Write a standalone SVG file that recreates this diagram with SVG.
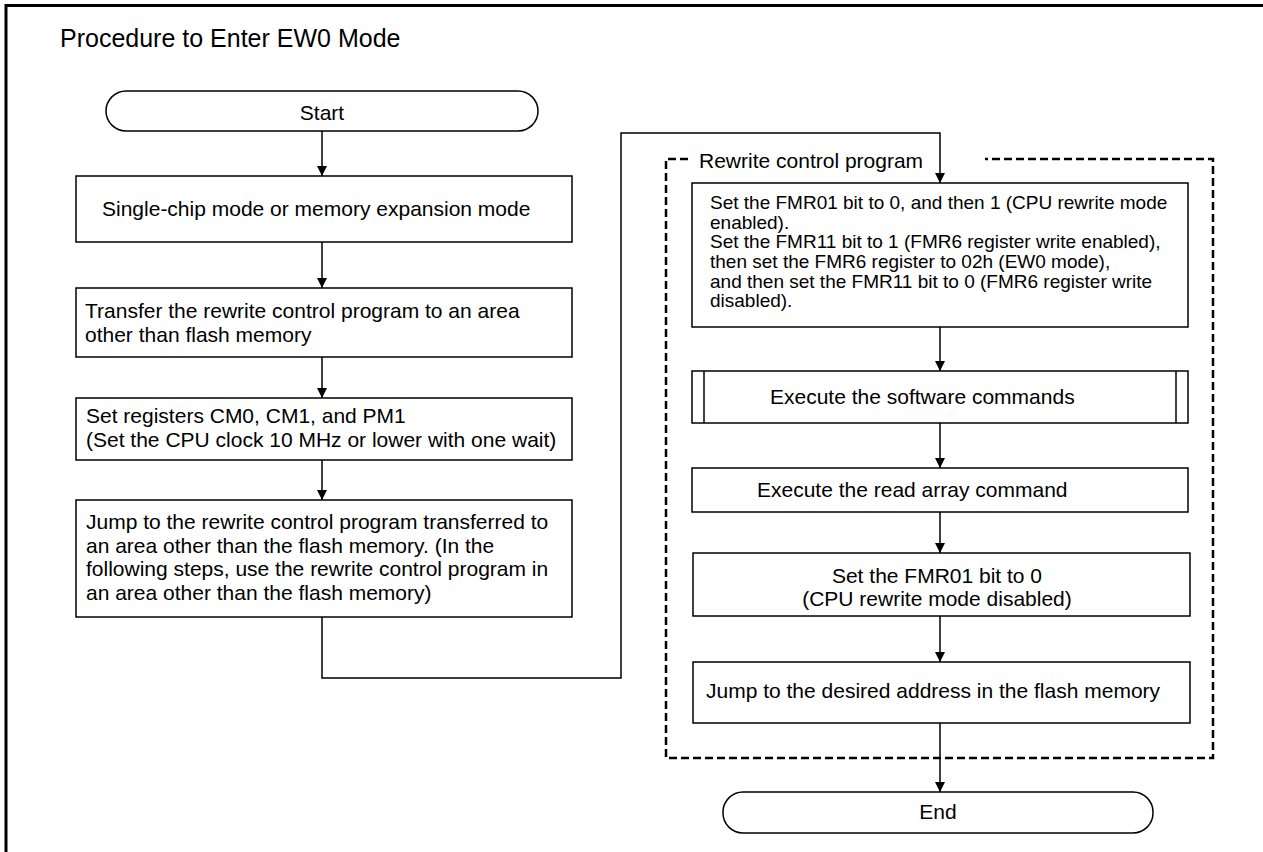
<svg xmlns="http://www.w3.org/2000/svg" width="1263" height="852" viewBox="0 0 1263 852">
<style>
  .box { fill: #fff; stroke: #000; stroke-width: 1.5; }
  .ln { fill: none; stroke: #000; stroke-width: 1.5; }
  .dash { fill: none; stroke: #000; stroke-width: 2.5; stroke-dasharray: 8 4; }
  .t { font-family: "Liberation Sans", Arial, sans-serif; font-size: 21px; fill: #000; }
  .ts { font-family: "Liberation Sans", Arial, sans-serif; font-size: 19px; fill: #000; }
  .c { text-anchor: middle; }
</style>
<defs>
  <marker id="arr" viewBox="0 0 10 10" refX="10" refY="5" markerWidth="10" markerHeight="11" markerUnits="userSpaceOnUse" orient="auto">
    <path d="M0,0 L10,5 L0,10 z" fill="#000"/>
  </marker>
</defs>
<rect x="0" y="0" width="1263" height="852" fill="#fff"/>
<path d="M6,852 V5.5 H1263" fill="none" stroke="#000" stroke-width="3"/>
<text class="t" x="60" y="47" style="font-size:25px">Procedure to Enter EW0 Mode</text>

<g id="rewrite-group">
  <path class="dash" d="M688,159 H666 V758 H1213 V159 H985"/>
  <text class="t" x="699" y="168">Rewrite control program</text>
</g>

<g id="connectors">
  <line class="ln" x1="322" y1="131" x2="322" y2="176" marker-end="url(#arr)"/>
  <line class="ln" x1="322" y1="242" x2="322" y2="288" marker-end="url(#arr)"/>
  <line class="ln" x1="322" y1="357" x2="322" y2="398" marker-end="url(#arr)"/>
  <line class="ln" x1="322" y1="460" x2="322" y2="500" marker-end="url(#arr)"/>
  <path class="ln" d="M322,617 V678 H621 V133 H940 V183" marker-end="url(#arr)"/>
  <line class="ln" x1="940" y1="327" x2="940" y2="371" marker-end="url(#arr)"/>
  <line class="ln" x1="940" y1="423" x2="940" y2="468" marker-end="url(#arr)"/>
  <line class="ln" x1="940" y1="512" x2="940" y2="553" marker-end="url(#arr)"/>
  <line class="ln" x1="940" y1="616" x2="940" y2="662" marker-end="url(#arr)"/>
  <line class="ln" x1="940" y1="723" x2="940" y2="792" marker-end="url(#arr)"/>
</g>

<g id="start">
  <rect class="box" x="106" y="91" width="432" height="40" rx="20" ry="20"/>
  <text class="t c" x="322" y="120">Start</text>
</g>

<g id="mode">
  <rect class="box" x="76" y="176" width="496" height="66"/>
  <text class="t" x="102" y="216">Single-chip mode or memory expansion mode</text>
</g>

<g id="transfer">
  <rect class="box" x="76" y="288" width="496" height="69"/>
  <text class="t" x="85" y="318">Transfer the rewrite control program to an area</text>
  <text class="t" x="85" y="342">other than flash memory</text>
</g>

<g id="registers">
  <rect class="box" x="76" y="398" width="496" height="62"/>
  <text class="t" x="86" y="423">Set registers CM0, CM1, and PM1</text>
  <text class="t" x="86" y="447">(Set the CPU clock 10 MHz or lower with one wait)</text>
</g>

<g id="jump-rewrite">
  <rect class="box" x="76" y="500" width="496" height="117"/>
  <text class="t" x="86" y="529">Jump to the rewrite control program transferred to</text>
  <text class="t" x="86" y="553">an area other than the flash memory. (In the</text>
  <text class="t" x="86" y="576">following steps, use the rewrite control program in</text>
  <text class="t" x="86" y="600">an area other than the flash memory)</text>
</g>

<g id="fmr-set">
  <rect class="box" x="692" y="183" width="496" height="144"/>
  <text class="ts" x="710" y="209">Set the FMR01 bit to 0, and then 1 (CPU rewrite mode</text>
  <text class="ts" x="710" y="228.5">enabled).</text>
  <text class="ts" x="710" y="248">Set the FMR11 bit to 1 (FMR6 register write enabled),</text>
  <text class="ts" x="710" y="268">then set the FMR6 register to 02h (EW0 mode),</text>
  <text class="ts" x="710" y="287.5">and then set the FMR11 bit to 0 (FMR6 register write</text>
  <text class="ts" x="710" y="307">disabled).</text>
</g>

<g id="software">
  <rect class="box" x="692" y="371" width="496" height="52"/>
  <line class="ln" x1="704" y1="371" x2="704" y2="423"/>
  <line class="ln" x1="1176" y1="371" x2="1176" y2="423"/>
  <text class="t" x="770" y="404">Execute the software commands</text>
</g>

<g id="read-array">
  <rect class="box" x="692" y="468" width="496" height="44"/>
  <text class="t" x="757" y="497">Execute the read array command</text>
</g>

<g id="fmr-clear">
  <rect class="box" x="693" y="553" width="497" height="63"/>
  <text class="t c" x="937" y="583">Set the FMR01 bit to 0</text>
  <text class="t c" x="937" y="606">(CPU rewrite mode disabled)</text>
</g>

<g id="jump-flash">
  <rect class="box" x="693" y="662" width="497" height="61"/>
  <text class="t" x="706" y="698">Jump to the desired address in the flash memory</text>
</g>

<g id="end">
  <rect class="box" x="723" y="792" width="430" height="41" rx="20" ry="20"/>
  <text class="t c" x="938" y="819">End</text>
</g>
</svg>
